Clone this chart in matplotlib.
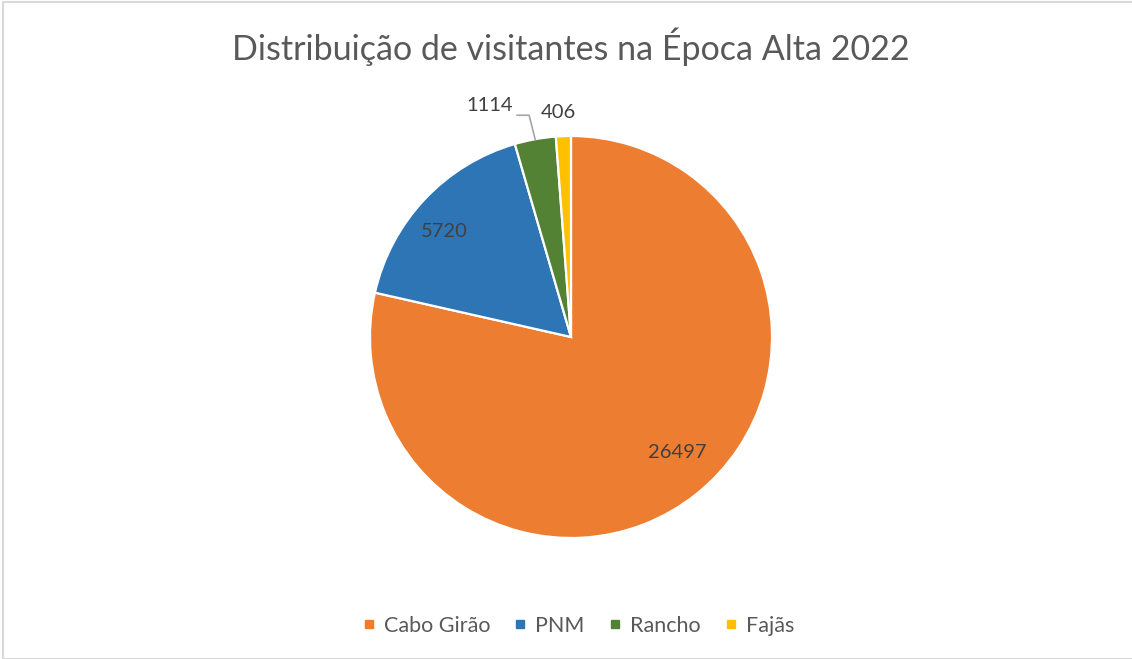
import numpy as np
import matplotlib.pyplot as plt
from matplotlib.lines import Line2D
from matplotlib.patches import Rectangle

# data
categories = ["Cabo Girão", "PNM", "Rancho", "Fajãs"]
values = [26497, 5720, 1114, 406]
colors = ["#ED7D31", "#2E75B6", "#548235", "#FFC000"]
title = "Distribuição de visitantes na Época Alta 2022"

plt.rcParams['font.family'] = ['Lato', 'DejaVu Sans']

W, H = 1132, 659
fig = plt.figure(figsize=(W / 100, H / 100), dpi=100)

# light frame around chart area
fig.patches.append(Rectangle((3 / W, 0), 1.5, 1 - 2 / H, transform=fig.transFigure,
                             fill=False, edgecolor="#D9D9D9", linewidth=1.5))

# pie axes: center (571, 337) px, radius 201 px
cx, cy, r = 571, H - 337, 201
ax = fig.add_axes([(cx - r) / W, (cy - r) / H, 2 * r / W, 2 * r / H])

wedges, _ = ax.pie(values, colors=colors, startangle=90, counterclock=False,
                   radius=1, wedgeprops=dict(edgecolor="white", linewidth=1.6))
ax.set_xlim(-1, 1)
ax.set_ylim(-1, 1)
ax.axis("off")

tc = "#404040"
fs = 14.5
for i, w in enumerate(wedges):
    mid = np.deg2rad((w.theta1 + w.theta2) / 2)
    v = str(values[i])
    if i == 0:
        d, off = 0.78, np.deg2rad(4)
        ax.text(d * np.cos(mid + off), d * np.sin(mid + off), v, ha="center", va="center",
                fontsize=fs, color=tc)
    elif i == 1:
        d, off = 0.82, np.deg2rad(3.5)
        ax.text(d * np.cos(mid + off), d * np.sin(mid + off), v, ha="center", va="center",
                fontsize=fs, color=tc)
    elif i == 2:
        ex, ey = np.cos(mid), np.sin(mid)
        kx, ky = ex - 6 / r, ey + 24 / r
        lx = kx - 12 / r
        ax.plot([ex, kx, lx], [ey, ky, ky], color="#A6A6A6", lw=1.2, clip_on=False)
        ax.text(lx - 4 / r, ky + 10 / r, v, ha="right", va="center", fontsize=fs, color=tc)
    else:
        d = 1.12
        ax.text(d * np.cos(mid) - 4 / r, d * np.sin(mid), v, ha="center", va="center",
                fontsize=fs, color=tc)

fig.text(571 / W, 1 - 47 / H, title, ha="center", va="center", fontsize=24.5,
         color="#595959")

handles = [Line2D([], [], marker="s", linestyle="none", markersize=6,
                  markerfacecolor=c, markeredgecolor=c) for c in colors]
fig.legend(handles, categories, loc="center", bbox_to_anchor=(576 / W, 1 - 626 / H),
           ncol=4, frameon=False, fontsize=15.5, labelcolor="#595959",
           handletextpad=0.2, columnspacing=0.9, handlelength=1.0)

fig.savefig("out.png", dpi=100)
